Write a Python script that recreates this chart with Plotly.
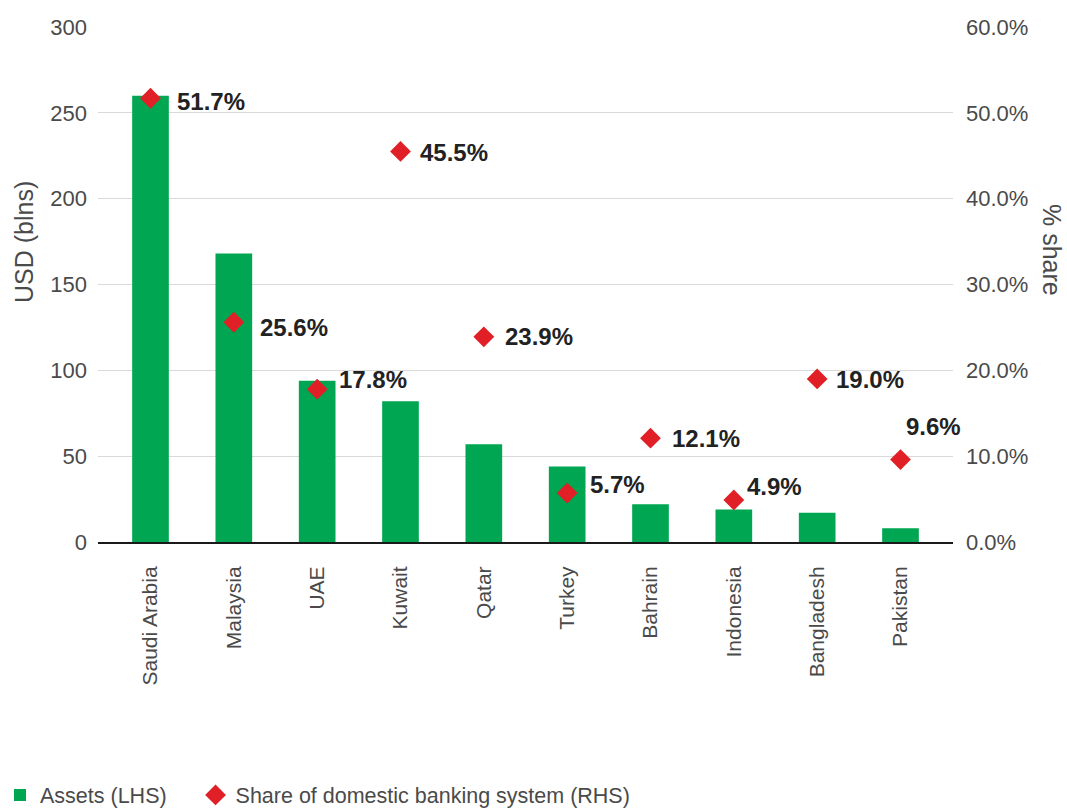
import plotly.graph_objects as go

countries = ["Saudi Arabia", "Malaysia", "UAE", "Kuwait", "Qatar", "Turkey",
             "Bahrain", "Indonesia", "Bangladesh", "Pakistan"]
assets = [260, 168, 94, 82, 57, 44, 22, 19, 17, 8]
share = [51.7, 25.6, 17.8, 45.5, 23.9, 5.7, 12.1, 4.9, 19.0, 9.6]
share_labels = ["51.7%", "25.6%", "17.8%", "45.5%", "23.9%", "5.7%", "12.1%", "4.9%", "19.0%", "9.6%"]

# label offsets (style only): pixel shifts of each value label from its marker
label_dx = [24, 24, 20, 17, 19, 21, 19, 11, 17, 3]
label_dy = [-3, -5, 10, -1, 0, 9, 0, 13, -1, 33]

left_ticks = [0, 50, 100, 150, 200, 250, 300]
right_ticks = [0, 10, 20, 30, 40, 50, 60]
right_tick_text = ["0.0%", "10.0%", "20.0%", "30.0%", "40.0%", "50.0%", "60.0%"]

GREEN = "#00a651"
RED = "#e01f26"
TXT = "#4a4a4a"
FONT = "Liberation Sans, Arial, sans-serif"
PAD = "\u00a0" * 4

fig = go.Figure()
fig.add_trace(go.Bar(
    x=countries, y=assets, name="Assets (LHS)" + PAD,
    marker=dict(color=GREEN, line=dict(width=0)), width=0.44,
    yaxis="y",
))
fig.add_trace(go.Scatter(
    x=countries, y=share, name="Share of domestic banking system (RHS)",
    mode="markers", yaxis="y2",
    marker=dict(symbol="diamond", size=16, color=RED),
))

annotations = []
for c, v, t, dx, dy in zip(countries, share, share_labels, label_dx, label_dy):
    annotations.append(dict(
        x=c, y=v, xref="x", yref="y2", text=t, showarrow=False,
        xanchor="left", yanchor="middle", xshift=dx, yshift=dy,
        font=dict(family=FONT, size=24, color="#222222", weight="bold"),
    ))

annotations += [
    dict(text="USD (blns)", xref="paper", yref="paper",
         x=(24 - 98) / 855, y=(542 - 242) / 515, textangle=-90,
         showarrow=False, font=dict(family=FONT, size=25, color=TXT),
         xanchor="center", yanchor="middle"),
    dict(text="% share", xref="paper", yref="paper",
         x=(1052 - 98) / 855, y=(542 - 250) / 515, textangle=90,
         showarrow=False, font=dict(family=FONT, size=25, color=TXT),
         xanchor="center", yanchor="middle"),
]

fig.update_layout(
    width=1067, height=812,
    margin=dict(l=98, r=114, t=27, b=270),
    paper_bgcolor="white", plot_bgcolor="white",
    font=dict(family=FONT, size=22, color=TXT),
    showlegend=True,
    legend=dict(orientation="h", xref="container", yref="container",
                x=0, y=1 - 795 / 812, xanchor="left", yanchor="middle",
                font=dict(family=FONT, size=21.5, color=TXT),
                traceorder="normal", bgcolor="rgba(0,0,0,0)"),
    xaxis=dict(
        type="category", range=[-0.63, 9.63], tickangle=-90,
        showgrid=False, showline=True, linecolor="#1a1a1a", linewidth=2,
        ticks="", ticklabelstandoff=14,
        tickfont=dict(family=FONT, size=21, color=TXT),
    ),
    yaxis=dict(
        range=[0, 300], tickvals=left_ticks, showgrid=True,
        gridcolor="#d9d9d9", gridwidth=1, zeroline=False, showline=False,
        ticks="", ticklabelstandoff=10,
        tickfont=dict(family=FONT, size=22, color=TXT),
    ),
    yaxis2=dict(
        range=[0, 60], tickvals=right_ticks, ticktext=right_tick_text,
        overlaying="y", side="right", showgrid=False, zeroline=False,
        showline=False, ticks="", ticklabelstandoff=12,
        tickfont=dict(family=FONT, size=22, color=TXT),
    ),
    annotations=annotations,
)

fig.write_html("out.html")
